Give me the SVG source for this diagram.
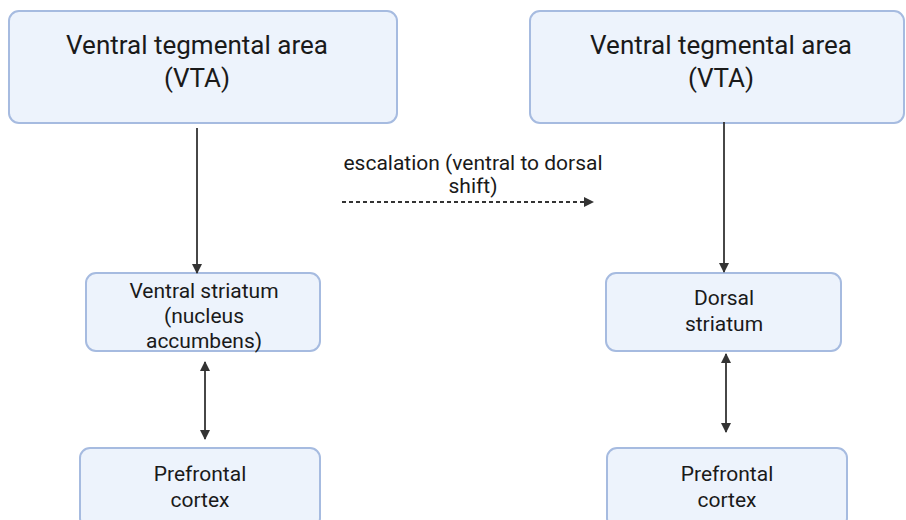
<svg xmlns="http://www.w3.org/2000/svg" width="906" height="520" viewBox="0 0 906 520">
<style>
.box{fill:#edf3fc;stroke:#a6bbe0;stroke-width:2}
.t{font-family:Roboto,"Liberation Sans",sans-serif;fill:#1a1a1a;text-anchor:middle}
.big{font-size:26px}
.mid{font-size:21px}
.line{stroke:#333;stroke-width:1.8;fill:none}
</style>
<defs>
<marker id="ah" viewBox="0 0 10 10" refX="9" refY="5" markerWidth="10" markerHeight="10" markerUnits="userSpaceOnUse" orient="auto-start-reverse"><path d="M0,0L10,5L0,10z" fill="#333"/></marker>
</defs>
<rect width="906" height="520" fill="#fff"/>
<g id="vta-left"><rect class="box" x="9" y="11" width="388" height="112" rx="10"/>
<text class="t big" x="197" y="54">Ventral tegmental area</text><text class="t big" x="197" y="87">(VTA)</text></g>
<g id="vta-right"><rect class="box" x="530" y="11" width="374" height="112" rx="10"/>
<text class="t big" x="721" y="54">Ventral tegmental area</text><text class="t big" x="721" y="87">(VTA)</text></g>
<g id="ventral-striatum"><rect class="box" x="86" y="273" width="234" height="78" rx="10"/>
<text class="t mid" x="204" y="298">Ventral striatum</text><text class="t mid" x="204" y="323">(nucleus</text><text class="t mid" x="204" y="348">accumbens)</text></g>
<g id="dorsal-striatum"><rect class="box" x="606" y="273" width="235" height="78" rx="10"/>
<text class="t mid" x="724" y="305">Dorsal</text><text class="t mid" x="724" y="331">striatum</text></g>
<g id="pfc-left"><rect class="box" x="80" y="448" width="240" height="80" rx="10"/>
<text class="t mid" x="200" y="481">Prefrontal</text><text class="t mid" x="200" y="507">cortex</text></g>
<g id="pfc-right"><rect class="box" x="607" y="448" width="240" height="80" rx="10"/>
<text class="t mid" x="727" y="481">Prefrontal</text><text class="t mid" x="727" y="507">cortex</text></g>
<g id="connectors">
<line class="line" x1="197" y1="128" x2="197" y2="273" marker-end="url(#ah)"/>
<line class="line" x1="724" y1="122" x2="724" y2="272" marker-end="url(#ah)"/>
<line class="line" x1="205" y1="362" x2="205" y2="439" marker-start="url(#ah)" marker-end="url(#ah)"/>
<line class="line" x1="726" y1="354" x2="726" y2="432" marker-start="url(#ah)" marker-end="url(#ah)"/>
<line class="line" x1="342" y1="202" x2="593" y2="202" stroke-dasharray="4,3" stroke-width="1.5" marker-end="url(#ah)"/>
<text class="t" style="font-size:21px" x="473" y="170">escalation (ventral to dorsal</text>
<text class="t" style="font-size:21px" x="473" y="193">shift)</text>
</g>
</svg>
